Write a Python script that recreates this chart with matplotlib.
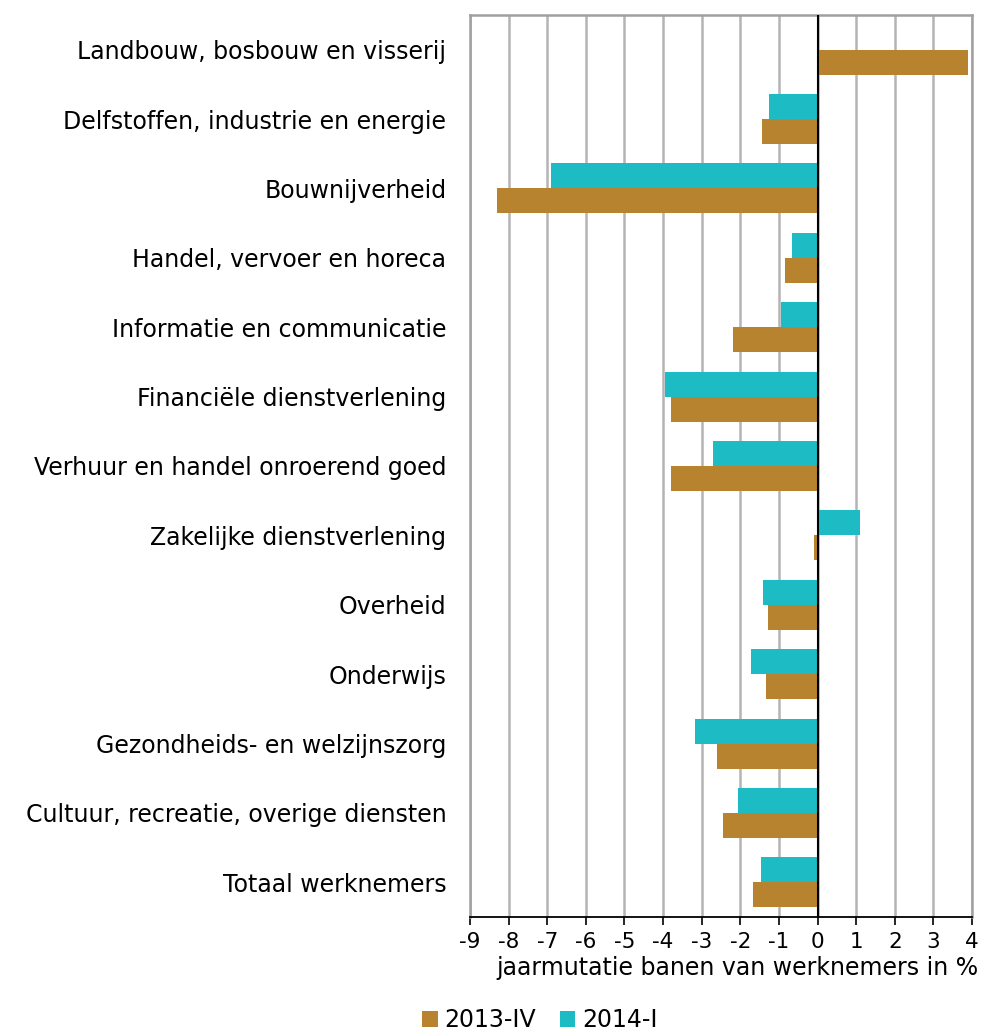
import matplotlib.pyplot as plt
import numpy as np

plt.rcParams['font.family'] = ['DejaVu Sans']

categories = ['Landbouw, bosbouw en visserij',
              'Delfstoffen, industrie en energie',
              'Bouwnijverheid',
              'Handel, vervoer en horeca',
              'Informatie en communicatie',
              'Financiële dienstverlening',
              'Verhuur en handel onroerend goed',
              'Zakelijke dienstverlening',
              'Overheid',
              'Onderwijs',
              'Gezondheids- en welzijnszorg',
              'Cultuur, recreatie, overige diensten',
              'Totaal werknemers']
v2013_iv = [3.9, -1.45, -8.3, -0.85, -2.2, -3.8, -3.8, -0.1, -1.27, -1.34, -2.6, -2.45, -1.68]
v2014_i = [np.nan, -1.25, -6.9, -0.65, -0.95, -3.95, -2.7, 1.1, -1.4, -1.73, -3.18, -2.06, -1.47]
xticks = list(range(-9, 5))

brown = '#B8832F'
teal = '#1DBCC5'

fig = plt.figure(figsize=(9.86, 10.3), dpi=100)
ax = fig.add_axes([470/986, 113/1030, 502/986, 902/1030])

y = np.arange(len(categories))
h = 0.36
ax.barh(y + h/2, v2013_iv, height=h, color=brown, label='2013-IV', zorder=3)
ax.barh(y - h/2, v2014_i, height=h, color=teal, label='2014-I', zorder=3)

ax.set_ylim(len(categories) - 0.5, -0.5)
ax.set_xlim(-9, 4)
ax.set_xticks(xticks)
ax.set_xticklabels([str(t) for t in xticks], fontsize=15.5)
ax.set_yticks(y)
ax.set_yticklabels(categories, fontsize=17)
ax.tick_params(axis='y', length=0, pad=17)
ax.tick_params(axis='x', length=6, width=1.2, direction='out', pad=5)
ax.set_xlabel('jaarmutatie banen van werknemers in %', fontsize=17, labelpad=3, x=0.532)

ax.grid(axis='x', color='#b4b4b4', linewidth=1.8, zorder=0)
ax.axvline(0, color='black', linewidth=1.5, zorder=4)
for s in ['top', 'right', 'left']:
    ax.spines[s].set_color('#a0a0a0')
    ax.spines[s].set_linewidth(1.8)
ax.spines['bottom'].set_color('black')
ax.spines['bottom'].set_linewidth(1.3)

fig.legend(loc='center', bbox_to_anchor=(540/986, 1 - 1020/1030), ncol=2,
           frameon=False, fontsize=17, handlelength=0.65, handleheight=0.65,
           handletextpad=0.3, columnspacing=1.0)

fig.savefig('out.png', dpi=100)
